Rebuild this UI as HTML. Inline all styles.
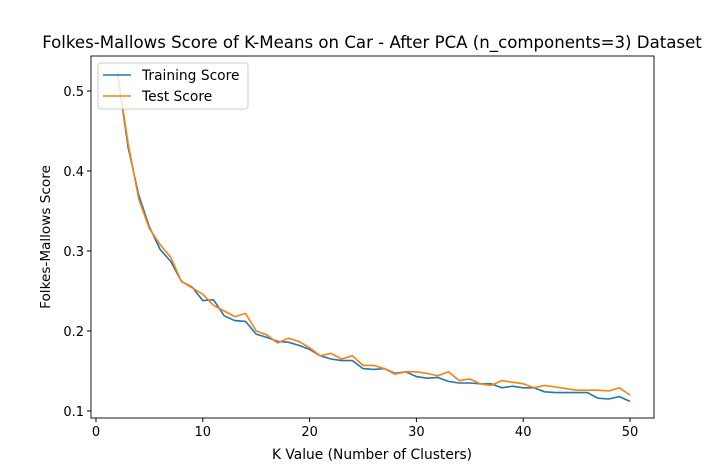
<!DOCTYPE html>
<html><head><meta charset="utf-8"><style>
body{margin:0;background:#fff;}
svg text{font-family:"DejaVu Sans","Liberation Sans",sans-serif;fill:#000;}
</style></head><body>
<svg id="chart" width="727" height="470">
<rect width="727" height="470" fill="#fff"/>
<text x="372" y="48" font-size="16.6" text-anchor="middle">Folkes-Mallows Score of K-Means on Car - After PCA (n_components=3) Dataset</text>
<g id="axes"></g>
<text x="372" y="459" font-size="13.8" text-anchor="middle">K Value (Number of Clusters)</text>
<text transform="translate(50,237) rotate(-90)" font-size="13.6" text-anchor="middle">Folkes-Mallows Score</text>
</svg>
<script>
const ks=[2,3,4,5,6,7,8,9,10,11,12,13,14,15,16,17,18,19,20,21,22,23,24,25,26,27,28,29,30,31,32,33,34,35,36,37,38,39,40,41,42,43,44,45,46,47,48,49,50];
const trainScores=[.524,.43,.37,.33,.302,.287,.262,.255,.238,.239,.219,.213,.212,.196,.192,.187,.186,.182,.177,.169,.165,.163,.163,.153,.152,.153,.147,.149,.143,.141,.142,.137,.135,.135,.134,.134,.129,.131,.129,.129,.124,.123,.123,.123,.123,.116,.115,.118,.112];
const testScores=[.524,.435,.365,.328,.308,.292,.262,.254,.246,.232,.225,.218,.222,.2,.195,.185,.191,.187,.179,.169,.172,.165,.169,.157,.157,.153,.146,.149,.149,.147,.144,.149,.138,.140,.134,.132,.138,.136,.134,.129,.132,.130,.128,.126,.126,.126,.125,.129,.120];
const xTicks=[0,10,20,30,40,50];
const yTicks=[0.1,0.2,0.3,0.4,0.5];
const L=91,R=654,T=56,B=418;
const X=v=>96+v*(630-96)/50;
const Y=v=>411-(v-0.1)*800;
const NS="http://www.w3.org/2000/svg";
const g=document.getElementById('axes');
function mk(t,a){const e=document.createElementNS(NS,t);for(const k in a)e.setAttribute(k,a[k]);g.appendChild(e);return e;}
function line(vals,color,name){
 const p=mk('polyline',{points:vals.map((v,i)=>X(ks[i])+','+Y(v)).join(' '),fill:'none',stroke:color,'stroke-width':1.6});
 
 
}
line(trainScores,'#1f77b4','training-score-line');
line(testScores,'#ff7f0e','test-score-line');
const fr=mk('rect',{x:L,y:T,width:R-L,height:B-T,fill:'none',stroke:'#000','stroke-width':0.9});


xTicks.forEach(v=>{
 mk('line',{x1:X(v),x2:X(v),y1:B,y2:B+4,stroke:'#000'});
 const t=mk('text',{x:X(v),y:B+18,'font-size':13,'text-anchor':'middle'});t.textContent=v;
 
 
});
yTicks.forEach(v=>{
 mk('line',{x1:L-4,x2:L,y1:Y(v),y2:Y(v),stroke:'#000'});
 const t=mk('text',{x:L-7,y:Y(v)+5,'font-size':13,'text-anchor':'end'});t.textContent=v.toFixed(1);
 
 
});
const lg=mk('rect',{x:98,y:63,width:150,height:46,rx:3,fill:'#fff','fill-opacity':0.8,stroke:'#ccc'});


[['Training Score','#1f77b4',75],['Test Score','#ff7f0e',96]].forEach(([n,c,y])=>{
 mk('line',{x1:103,x2:131,y1:y,y2:y,stroke:c,'stroke-width':1.6});
 const t=mk('text',{x:142,y:y+5,'font-size':13.8});t.textContent=n;
 
 
});
</script>
</body></html>
